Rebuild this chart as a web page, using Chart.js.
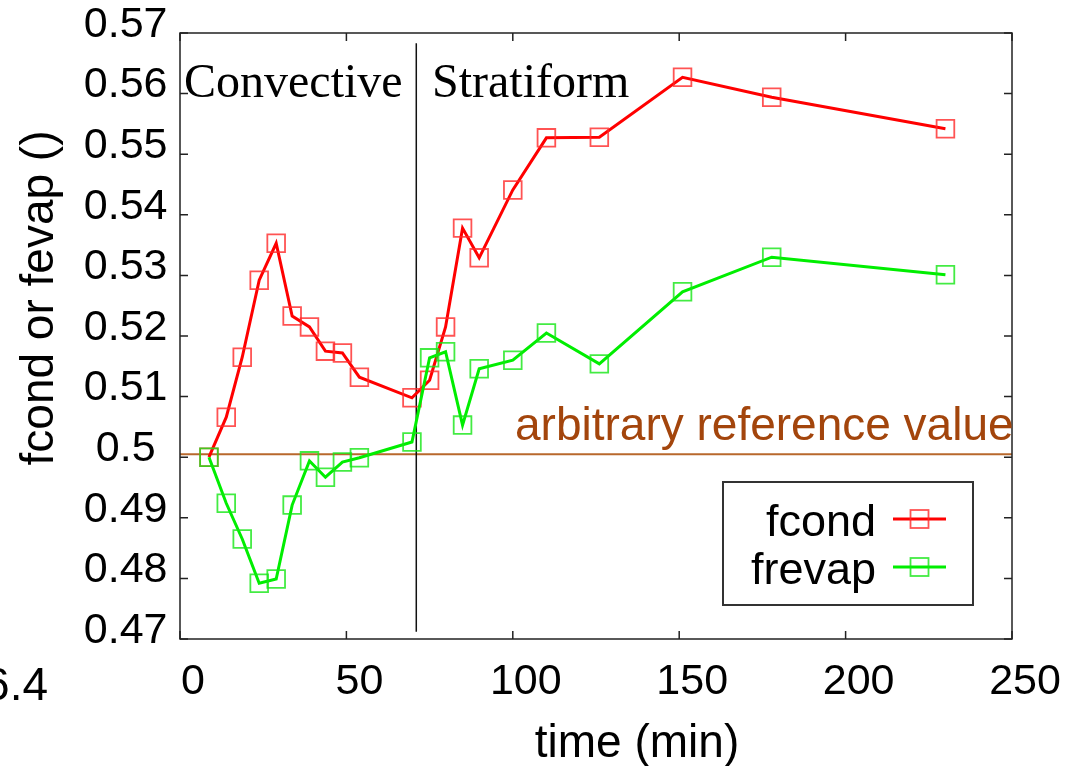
<!DOCTYPE html>
<html>
<head>
<meta charset="utf-8">
<script src="https://cdn.jsdelivr.net/npm/chart.js@4"></script>
<style>
  html, body { margin: 0; padding: 0; background: #fff; }
  #wrap { width: 1085px; height: 766px; }
</style>
</head>
<body>
<div id="wrap"><canvas id="chart" width="1085" height="766"></canvas></div>
<script>
// data
const timeMin = [8.7, 13.9, 18.7, 23.8, 28.9, 33.7, 38.9, 43.7, 48.8, 53.9, 69.7, 75.0, 79.8, 84.9, 89.9, 100.0, 110.1, 126.0, 151.0, 177.8, 230.0];
const fcond = [0.5000, 0.5066, 0.5165, 0.5292, 0.5353, 0.5233, 0.5215, 0.5175, 0.5172, 0.5132, 0.5098, 0.5127, 0.5215, 0.5378, 0.5329, 0.5441, 0.5527, 0.5528, 0.5627, 0.5594, 0.5542];
const frevap = [0.5000, 0.4924, 0.4865, 0.4792, 0.4799, 0.4921, 0.4994, 0.4967, 0.4992, 0.4999, 0.5025, 0.5164, 0.5174, 0.5053, 0.5146, 0.5160, 0.5205, 0.5154, 0.5273, 0.5330, 0.5301];
const refValue = 0.5005;
const refRange = [0, 250];
const splitTime = 71;
const splitRange = [0.4712, 0.5683];
const seriesLabels = ['fcond', 'frevap'];
const seriesColors = ['#ff0000', '#00ee00'];
const markerColors = ['rgba(255,40,40,0.8)', 'rgba(20,230,20,0.8)'];

const FONT = '"Liberation Sans", Arial, sans-serif';
const SERIF = '"Liberation Serif", "Times New Roman", serif';

function toPoints(xs, ys) {
    return xs.map((x, i) => ({ x: x, y: ys[i] }));
}

// frame, inward ticks, texts and legend
const decor = {
    id: 'decor',
    afterDatasetsDraw(chart) {
        const ctx = chart.ctx;
        const a = chart.chartArea;
        const xs = chart.scales.x, ys = chart.scales.y;
        ctx.save();
        ctx.strokeStyle = '#222';
        ctx.lineWidth = 1.5;
        ctx.strokeRect(a.left, a.top, a.right - a.left, a.bottom - a.top);
        ctx.beginPath();
        xs.ticks.forEach(t => {
            const px = xs.getPixelForValue(t.value);
            ctx.moveTo(px, a.bottom); ctx.lineTo(px, a.bottom - 8);
            ctx.moveTo(px, a.top); ctx.lineTo(px, a.top + 8);
        });
        ys.ticks.forEach(t => {
            const py = ys.getPixelForValue(t.value);
            ctx.moveTo(a.left, py); ctx.lineTo(a.left + 8, py);
            ctx.moveTo(a.right, py); ctx.lineTo(a.right - 8, py);
        });
        ctx.stroke();

        // region labels
        ctx.fillStyle = '#000';
        ctx.font = '48px ' + SERIF;
        ctx.textAlign = 'left';
        ctx.textBaseline = 'alphabetic';
        ctx.fillText('Convective', 184, 97);
        ctx.fillText('Stratiform', 432, 97);

        ctx.fillStyle = '#a3450c';
        ctx.font = '46px ' + FONT;
        ctx.fillText('arbitrary reference value', 515, 440);

        // legend
        ctx.fillStyle = '#fff';
        ctx.fillRect(723, 482, 250, 123);
        ctx.strokeStyle = '#333';
        ctx.lineWidth = 2;
        ctx.strokeRect(723, 482, 250, 123);
        ctx.font = '45px ' + FONT;
        ctx.textAlign = 'right';
        ctx.fillStyle = '#000';
        const rows = [519, 567];
        seriesLabels.forEach((lab, i) => {
            const ly = rows[i];
            ctx.fillText(lab, 876, ly + 17);
            ctx.strokeStyle = seriesColors[i];
            ctx.lineWidth = 3;
            ctx.beginPath();
            ctx.moveTo(893, ly); ctx.lineTo(946, ly);
            ctx.stroke();
            ctx.strokeStyle = markerColors[i];
            ctx.lineWidth = 1.8;
            ctx.strokeRect(910.5, ly - 9, 18, 18);
        });

        // axis titles
        ctx.fillStyle = '#000';
        ctx.font = '46px ' + FONT;
        ctx.textAlign = 'center';
        ctx.fillText('time (min)', 637, 757);
        ctx.save();
        ctx.translate(53, 298);
        ctx.rotate(-Math.PI / 2);
        ctx.fillText('fcond or fevap ()', 0, 0);
        ctx.restore();

        // clipped leftover label at the far left
        ctx.textAlign = 'right';
        ctx.fillText('6.4', 48, 700);
        ctx.restore();
    }
};

const ctx = document.getElementById('chart').getContext('2d');
new Chart(ctx, {
    type: 'line',
    data: {
        datasets: [
            {
                label: seriesLabels[0],
                data: toPoints(timeMin, fcond),
                borderColor: seriesColors[0],
                borderWidth: 3,
                pointStyle: 'rect',
                pointRadius: 12.5,
                pointBorderWidth: 1.8,
                pointBorderColor: markerColors[0],
                pointBackgroundColor: 'rgba(0,0,0,0)',
                tension: 0,
                order: 1
            },
            {
                label: seriesLabels[1],
                data: toPoints(timeMin, frevap),
                borderColor: seriesColors[1],
                borderWidth: 3,
                pointStyle: 'rect',
                pointRadius: 12.5,
                pointBorderWidth: 1.8,
                pointBorderColor: markerColors[1],
                pointBackgroundColor: 'rgba(0,0,0,0)',
                tension: 0,
                order: 0
            },
            {
                label: 'reference',
                data: toPoints(refRange, [refValue, refValue]),
                borderColor: '#b8682c',
                borderWidth: 2,
                pointRadius: 0,
                order: 3
            },
            {
                label: 'split',
                data: toPoints([splitTime, splitTime], splitRange),
                borderColor: '#111',
                borderWidth: 1.5,
                pointRadius: 0,
                order: 2
            }
        ]
    },
    options: {
        responsive: false,
        animation: false,
        layout: { padding: { left: 0, right: 73, top: 33, bottom: 0 } },
        plugins: {
            legend: { display: false },
            tooltip: { enabled: false }
        },
        scales: {
            x: {
                type: 'linear',
                min: 0,
                max: 250,
                grid: { display: false, drawTicks: false },
                border: { display: false },
                ticks: {
                    stepSize: 50,
                    padding: 17,
                    labelOffset: 13,
                    color: '#000',
                    font: { family: FONT, size: 43 },
                    maxRotation: 0
                },
                afterFit(scale) {
                    scale.height = 127;
                    scale.paddingLeft = 0;
                    scale.paddingRight = 0;
                }
            },
            y: {
                min: 0.47,
                max: 0.57,
                grid: { display: false, drawTicks: false },
                border: { display: false },
                ticks: {
                    stepSize: 0.01,
                    padding: 12.5,
                    crossAlign: 'center',
                    labelOffset: -8,
                    color: '#000',
                    font: { family: FONT, size: 43 },
                    callback: v => String(Number(v.toFixed(2)))
                },
                afterFit(scale) {
                    scale.width = 180;
                    scale.paddingTop = 0;
                    scale.paddingBottom = 0;
                }
            }
        }
    },
    plugins: [decor]
});
</script>
</body>
</html>
